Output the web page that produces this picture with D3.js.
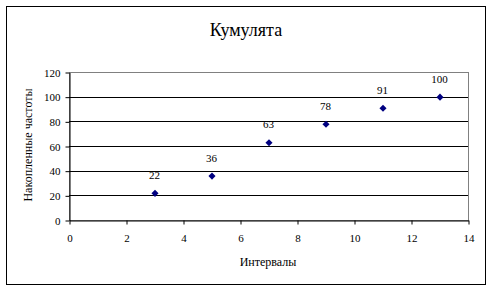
<!DOCTYPE html>
<html>
<head>
<meta charset="utf-8">
<script src="https://cdn.jsdelivr.net/npm/d3@7"></script>
<style>
  body { margin: 0; background: #fff; }
  svg text { font-family: "Liberation Serif", "Times New Roman", serif; fill: #000; }
</style>
</head>
<body>
<svg id="chart" width="491" height="290" font-family="Liberation Serif, serif"></svg>
<script>
// data
const intervals = [3, 5, 7, 9, 11, 13]
const cumFreq = [22, 36, 63, 78, 91, 100]
const xTicks = [0, 2, 4, 6, 8, 10, 12, 14]
const yTicks = [0, 20, 40, 60, 80, 100, 120]

const title = 'Кумулята'
const xTitle = 'Интервалы'
const yTitle = 'Накопленные частоты'

const svg = d3.select('#chart')

// outer frame
svg.append('rect')
  .attr('x', 6.5).attr('y', 6.5)
  .attr('width', 479).attr('height', 278)
  .attr('fill', 'none').attr('stroke', '#000')

const plot = { left: 69, right: 468, top: 72, bottom: 220 }

const x = d3.scaleLinear().domain([0, 14]).range([plot.left, plot.right])
const y = d3.scaleLinear().domain([0, 120]).range([plot.bottom, plot.top])

// plot area border (grey)
svg.append('rect')
  .attr('x', plot.left + 0.5).attr('y', plot.top + 0.5)
  .attr('width', plot.right - plot.left).attr('height', plot.bottom - plot.top)
  .attr('fill', 'none').attr('stroke', '#808080')

// gridlines
svg.append('g')
  .selectAll('line')
  .data(yTicks.filter(d => d > 0 && d < 120))
  .enter()
  .append('line')
  .attr('x1', plot.left).attr('x2', plot.right)
  .attr('y1', d => Math.round(y(d)) + 0.5).attr('y2', d => Math.round(y(d)) + 0.5)
  .attr('stroke', '#000')

// axes
const xAxis = svg.append('g')
  .attr('transform', `translate(0.5,${plot.bottom + 0.5})`)
  .call(d3.axisBottom(x).tickValues(xTicks).tickSize(4).tickPadding(10).tickSizeOuter(0))
  .attr('font-family', 'Liberation Serif, serif')
  .attr('font-size', 11)
xAxis.select('.domain').attr('stroke', '#000')

const yAxis = svg.append('g')
  .attr('transform', `translate(${plot.left + 0.5},0.5)`)
  .call(d3.axisLeft(y).tickValues(yTicks).tickSize(4).tickPadding(5).tickSizeOuter(0))
  .attr('font-family', 'Liberation Serif, serif')
  .attr('font-size', 11)
yAxis.select('.domain').attr('stroke', '#000')

// points
const pts = intervals.map((d, i) => ({ x: d, y: cumFreq[i] }))

svg.append('g')
  .selectAll('path')
  .data(pts)
  .enter()
  .append('path')
  .attr('d', d3.symbol().type(d3.symbolDiamond2).size(32))
  .attr('transform', d => `translate(${x(d.x) + 0.5},${y(d.y) + 0.5})`)
  .attr('fill', '#000080')

// data labels
svg.append('g')
  .selectAll('text')
  .data(pts)
  .enter()
  .append('text')
  .attr('x', d => x(d.x))
  .attr('y', d => y(d.y) - 14)
  .attr('text-anchor', 'middle')
  .attr('font-size', 11)
  .text(d => d.y)

// titles
svg.append('text')
  .attr('x', 246).attr('y', 36)
  .attr('text-anchor', 'middle')
  .attr('font-size', 18)
  .text(title)

svg.append('text')
  .attr('x', 268).attr('y', 266)
  .attr('text-anchor', 'middle')
  .attr('font-size', 12)
  .text(xTitle)

svg.append('text')
  .attr('transform', 'translate(32,145) rotate(-90)')
  .attr('text-anchor', 'middle')
  .attr('font-size', 12)
  .text(yTitle)
</script>
</body>
</html>
